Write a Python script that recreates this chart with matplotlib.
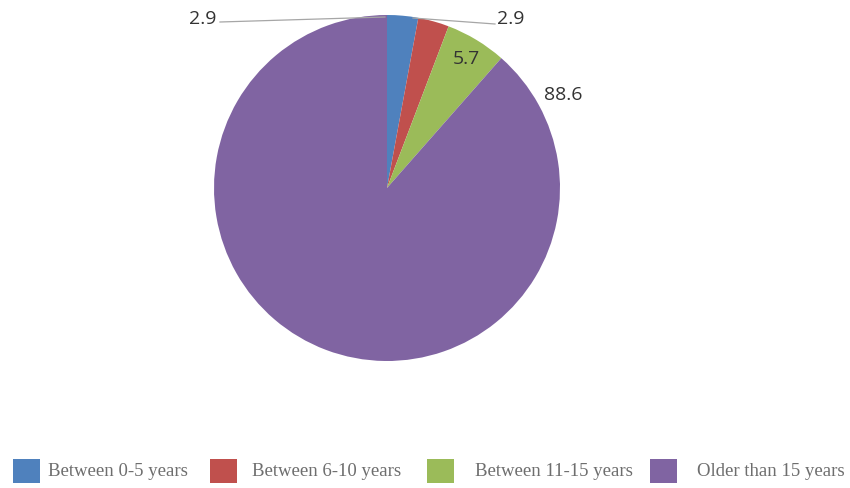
import matplotlib
matplotlib.use("Agg")
import matplotlib.pyplot as plt
from matplotlib.patches import Rectangle

categories = ["Between 0-5 years", "Between 6-10 years", "Between 11-15 years", "Older than 15 years"]
values = [2.9, 2.9, 5.7, 88.6]
value_labels = ["2.9", "2.9", "5.7", "88.6"]
colors = ["#4F81BD", "#C0504D", "#9BBB59", "#8064A2"]

W, H = 850, 488
fig = plt.figure(figsize=(W / 100, H / 100), dpi=100)

cx, cy, r = 387, 188, 173
ax = fig.add_axes([(cx - r) / W, (H - cy - r) / H, 2 * r / W, 2 * r / H])
ax.pie(values, colors=colors, startangle=90, counterclock=False, radius=1.0,
       wedgeprops=dict(linewidth=0))
ax.set_xlim(-1, 1)
ax.set_ylim(-1, 1)
ax.set_aspect("equal")
ax.axis("off")

def px(x, y):
    return ((x - cx) / r, (cy - y) / r)

label_font = dict(family="Open Sans", fontsize=14, color="#333333", ha="center", va="center")
pos = [(203, 19), (511, 19), (466, 59), (563, 95)]
for lab, (x, y) in zip(value_labels, pos):
    ax.text(*px(x, y), lab, **label_font, clip_on=False)

lines = [((220, 22), (385, 17)), ((413, 18), (495, 24))]
for (x0, y0), (x1, y1) in lines:
    p0, p1 = px(x0, y0), px(x1, y1)
    ax.plot([p0[0], p1[0]], [p0[1], p1[1]], color="#A6A6A6", lw=0.9, clip_on=False)

# legend
lax = fig.add_axes([0, 0, 1, 1])
lax.set_xlim(0, W)
lax.set_ylim(H, 0)
lax.axis("off")
sq = [13, 210, 427, 650]
tx = [48, 252, 475, 697]
for c, name, sx, t in zip(colors, categories, sq, tx):
    lax.add_patch(Rectangle((sx, 459), 27, 24, facecolor=c, edgecolor="none"))
    lax.text(t, 472, name, family="Liberation Serif", fontsize=13.5, color="#6E6E6E",
             ha="left", va="center")

fig.savefig("out.png", dpi=100, facecolor="white")
